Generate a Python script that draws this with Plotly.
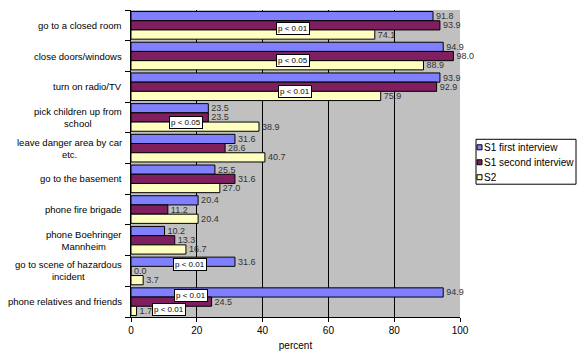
import plotly.graph_objects as go

categories = [
    "go to a closed room",
    "close doors/windows",
    "turn on radio/TV",
    "pick children up from<br>school",
    "leave danger area by car<br>etc.",
    "go to the basement",
    "phone fire brigade",
    "phone Boehringer<br>Mannheim",
    "go to scene of hazardous<br>incident",
    "phone relatives and friends",
]
series_names = ["S1 first interview", "S1 second interview", "S2"]
s1_first = [91.8, 94.9, 93.9, 23.5, 31.6, 25.5, 20.4, 10.2, 31.6, 94.9]
s1_second = [93.9, 98.0, 92.9, 23.5, 28.6, 31.6, 11.2, 13.3, 0.0, 24.5]
s2 = [74.1, 88.9, 75.9, 38.9, 40.7, 27.0, 20.4, 16.7, 3.7, 1.7]
x_ticks = [0, 20, 40, 60, 80, 100]

# significance labels: (text, category index, offset within category, x value)
p_labels = ["p < 0.01", "p < 0.05", "p < 0.01", "p < 0.05", "p < 0.01", "p < 0.01", "p < 0.01"]
p_cats = [0, 1, 2, 3, 8, 9, 9]
p_offsets = [0.1, 0.14, 0.15, 0.15, -0.2, -0.19, 0.26]
p_x = [49.2, 49.2, 49.7, 16.7, 17.8, 18.1, 11.5]

colors = ["#8080FF", "#7F1F5F", "#FFFFC0"]
values = [s1_first, s1_second, s2]
FONT = "Liberation Sans, Arial, sans-serif"

fig = go.Figure()
for name, vals, col in zip(series_names, values, colors):
    fig.add_trace(go.Bar(
        y=list(range(len(categories))), x=vals, name=name, orientation="h",
        marker=dict(color=col, line=dict(color="black", width=1)),
        text=[f"{v:.1f}" for v in vals], textposition="outside",
        constraintext="none", cliponaxis=False,
        textfont=dict(family=FONT, size=9, color="#333333"),
        showlegend=False, hoverinfo="skip",
    ))

annotations = []
for i, cat in enumerate(categories):
    annotations.append(dict(
        x=0, xref="paper", y=i, yref="y", text=cat, showarrow=False,
        xanchor="right", yanchor="middle", align="center", xshift=-7,
        font=dict(family=FONT, size=9.5, color="#000000"),
    ))
for t, c, o, xv in zip(p_labels, p_cats, p_offsets, p_x):
    annotations.append(dict(
        x=xv, xref="x", y=c + o, yref="y", text=t, showarrow=False,
        xanchor="center", yanchor="middle", bgcolor="white",
        bordercolor="black", borderwidth=1, borderpad=1,
        font=dict(family=FONT, size=8, color="#000000"),
    ))

# legend (manual, Excel style)
W, H = 582, 362
ml, mr, mt, mb = 131, 122, 9.5, 45
pw, ph = W - ml - mr, H - mt - mb
def px(x):
    return (x - ml) / pw
def py(y):
    return 1 - (y - mt) / ph
shapes = []
lx0, lx1, ly0, ly1 = 476, 576, 139, 184
shapes.append(dict(type="rect", xref="paper", yref="paper",
                   x0=px(lx0), x1=px(lx1), y0=py(ly1), y1=py(ly0),
                   fillcolor="white", line=dict(color="black", width=1), layer="above"))
for k, (name, col) in enumerate(zip(series_names, colors)):
    cy = 147 + k * 15
    shapes.append(dict(type="rect", xref="paper", yref="paper",
                       x0=px(477), x1=px(482), y0=py(cy + 2.5), y1=py(cy - 2.5),
                       fillcolor=col, line=dict(color="black", width=1), layer="above"))
    annotations.append(dict(x=px(482), xref="paper", y=py(cy), yref="paper",
                            text=name, showarrow=False, xanchor="left", yanchor="middle",
                            font=dict(family=FONT, size=10, color="#000000")))

fig.update_layout(
    width=W, height=H, autosize=False,
    margin=dict(l=ml, r=mr, t=mt, b=mb, pad=0),
    paper_bgcolor="white", plot_bgcolor="#C0C0C0",
    barmode="group", bargap=0.1, bargroupgap=0,
    annotations=annotations, shapes=shapes,
    font=dict(family=FONT, size=10, color="#000000"),
    hovermode=False,
)
fig.update_xaxes(
    range=[0, 100], tickvals=x_ticks, showgrid=True, gridcolor="black", gridwidth=1,
    zeroline=False, showline=True, linecolor="black", linewidth=1,
    ticks="outside", ticklen=4, tickcolor="black",
    title=dict(text="percent", font=dict(size=10), standoff=6),
    tickfont=dict(size=10),
)
fig.update_yaxes(
    range=[len(categories) - 0.5, -0.5], showticklabels=False,
    tickvals=[i - 0.5 for i in range(len(categories) + 1)],
    showgrid=False, zeroline=False, showline=True, linecolor="black", linewidth=1,
    ticks="outside", ticklen=5, tickcolor="black",
)
fig.write_html("out.html", config={"displayModeBar": False},
               post_script="document.body.style.margin='0';")
